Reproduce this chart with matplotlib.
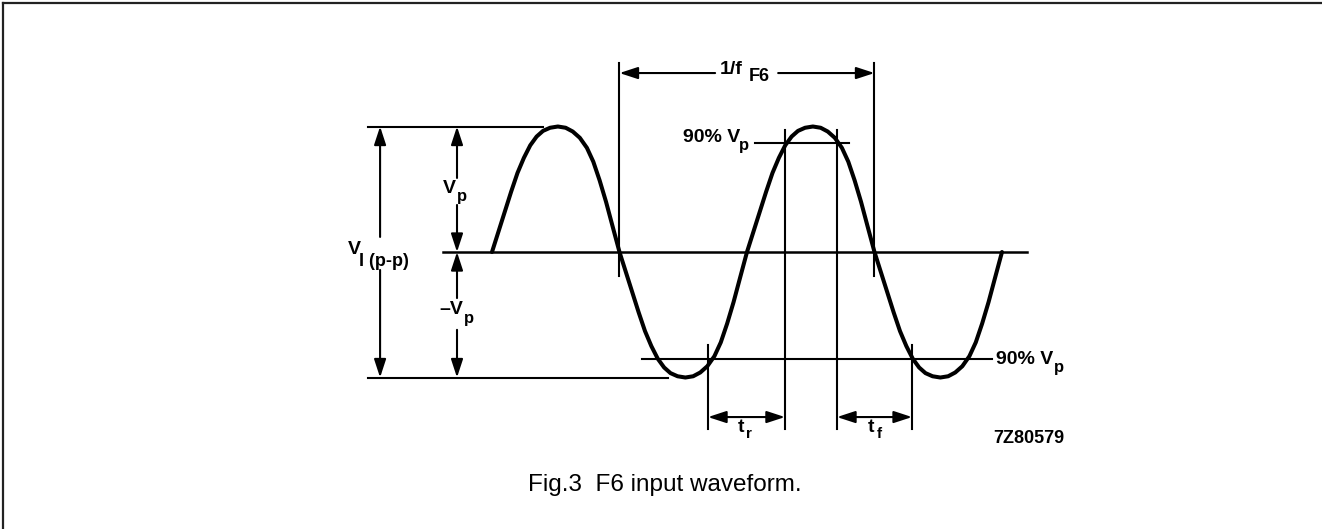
import matplotlib
matplotlib.use('Agg')
import numpy as np
import matplotlib.pyplot as plt
from matplotlib.lines import Line2D

# one half cycle of the waveform
# phase in degrees, level as a fraction of Vp
half_deg = [0, 9, 18, 27, 36, 45, 54, 63, 72, 82, 93, 104, 114, 124, 134, 143, 152, 161, 170, 180]
half_lvl = [0, 0.16, 0.32, 0.48, 0.63, 0.75, 0.85, 0.92, 0.965, 0.99, 1.0, 0.99, 0.96, 0.91,
            0.83, 0.72, 0.57, 0.40, 0.21, 0]
n_half = 4

# reference lines and markers (degrees / Vp)
zero_line = [-69, 755]
top_line = [-175, 72]
bot_line = [-175, 248]
period_marks = [180, 540]
tr_marks = [305, 413.6]
tf_marks = [487.1, 593]
lvl90_top = 0.87
lvl90_bot = -0.85
lvl90_top_span = [371, 504]
lvl90_bot_span = [212, 706]

fig = plt.figure(figsize=(13.22, 5.29), dpi=100)
ax = fig.add_axes([0, 0, 1, 1])
ax.set_xlim(-694.6, 1171.8)
ax.set_ylim(-2.207, 2.008)
ax.axis('off')

# waveform
wx, wy = [], []
for k in range(n_half):
    sign = 1 if k % 2 == 0 else -1
    wx += [k * 180 + d for d in half_deg]
    wy += [sign * v for v in half_lvl]
ax.plot(wx, wy, color='black', lw=2.9, solid_joinstyle='round', solid_capstyle='round')

lw = 1.5
ax.plot(zero_line, [0, 0], color='black', lw=1.8)
ax.plot(top_line, [1, 1], color='black', lw=lw)
ax.plot(bot_line, [-1, -1], color='black', lw=lw)
ax.plot(lvl90_top_span, [lvl90_top] * 2, color='black', lw=lw)
ax.plot(lvl90_bot_span, [lvl90_bot] * 2, color='black', lw=lw)

# verticals
for x in period_marks:
    ax.plot([x, x], [1.506, -0.19], color='black', lw=lw)
for x in [tr_marks[1], tf_marks[0]]:
    ax.plot([x, x], [0.972, -1.41], color='black', lw=lw)
for x in [tr_marks[0], tf_marks[1]]:
    ax.plot([x, x], [-0.74, -1.41], color='black', lw=lw)

aprops = dict(arrowstyle='-|>,head_length=1.1,head_width=0.36', color='black', lw=lw,
              shrinkA=0, shrinkB=0, mutation_scale=10)

def arrow(x0, y0, x1, y1):
    ax.annotate('', xy=(x1, y1), xytext=(x0, y0), arrowprops=aprops)

def darrow(x0, y0, x1, y1):
    ax.annotate('', xy=(x1, y1), xytext=(x0, y0),
                arrowprops=dict(aprops, arrowstyle='<|-|>,head_length=1.1,head_width=0.36'))

# V_I(p-p)
arrow(-158, 0.12, -158, 1)
arrow(-158, -0.143, -158, -1)
# Vp / -Vp
arrow(-49.4, 0.59, -49.4, 1)
arrow(-49.4, 0.375, -49.4, 0)
arrow(-49.4, -0.367, -49.4, 0)
arrow(-49.4, -0.62, -49.4, -1)
# 1/f
arrow(315, 1.426, period_marks[0], 1.426)
arrow(404, 1.426, period_marks[1], 1.426)
# tr, tf
darrow(tr_marks[0], -1.315, tr_marks[1], -1.315)
darrow(tf_marks[0], -1.315, tf_marks[1], -1.315)

fam = ['Liberation Sans', 'DejaVu Sans']
big = 14
sub = 12

def lab(x, y, s, size=big, weight='bold', **kw):
    ax.text(x, y, s, fontsize=size, family=fam, fontweight=weight,
            ha='left', va='center', **kw)

lab(-203.3, 0.02, 'V')
lab(-188, -0.075, 'I (p-p)', size=13)
lab(-69, 0.51, 'V')
lab(-50, 0.44, 'p', size=sub)
lab(-74, -0.46, '\u2013V')
lab(-40, -0.53, 'p', size=sub)
lab(322, 1.454, '1/f')
lab(363, 1.40, 'F6', size=sub + 1)
lab(270, 0.915, '90% V')
lab(349, 0.85, 'p', size=sub)
lab(712, -0.86, '90% V')
lab(794, -0.92, 'p', size=sub)
lab(347, -1.40, 't')
lab(359, -1.45, 'r', size=sub - 1)
lab(531, -1.40, 't')
lab(543, -1.45, 'f', size=sub - 1)
lab(707, -1.483, '7Z80579', size=13)

fig.text(665 / 1322, 1 - 485 / 529, 'Fig.3  F6 input waveform.', fontsize=17.5,
         family=fam, ha='center', va='center')

# frame (top and left only)
fig.add_artist(Line2D([2.5 / 1322, 1], [1 - 2.5 / 529] * 2, color='#222222', lw=1.6))
fig.add_artist(Line2D([2.5 / 1322] * 2, [0, 1 - 2.5 / 529], color='#222222', lw=1.6))

fig.savefig('out.png', dpi=100)
